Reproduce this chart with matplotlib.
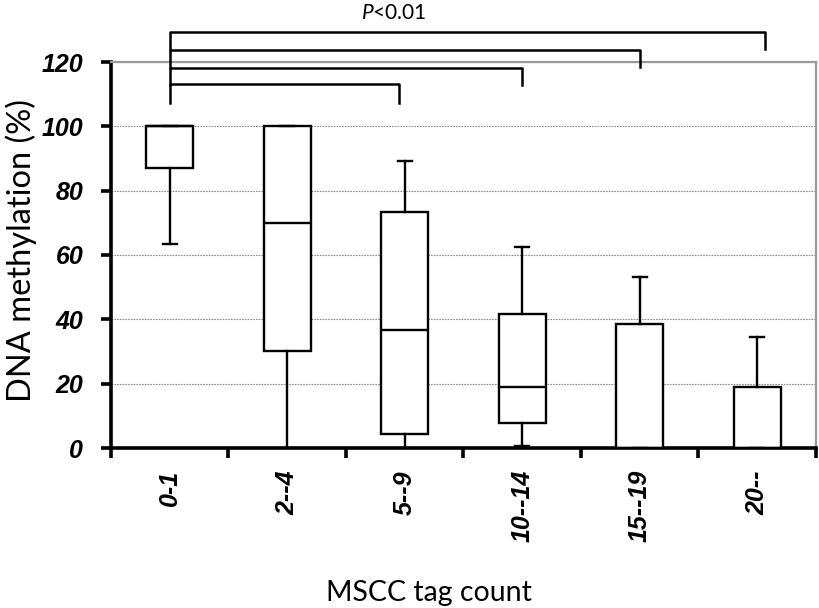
import matplotlib
matplotlib.use("Agg")
import matplotlib.pyplot as plt
from matplotlib.ticker import FixedLocator

# ---- data ----
categories = ["0-1", "2--4", "5--9", "10--14", "15--19", "20--"]
whisker_low = [63.4, 0.0, 0.0, 0.6, 0.0, 0.0]
q1 = [87.0, 30.2, 4.3, 7.7, 0.0, 0.0]
median = [100.0, 70.0, 36.7, 19.0, 0.0, 0.0]
q3 = [100.0, 100.0, 73.4, 41.7, 38.6, 19.0]
whisker_high = [100.0, 100.0, 89.2, 62.5, 53.2, 34.5]
y_ticks = [0, 20, 40, 60, 80, 100, 120]

# significance brackets (from group 0 to group end)
bracket_end = [5.07, 4.0, 3.0, 1.95]
bracket_top = [129.3, 123.7, 118.1, 113.1]
bracket_bottom = [124.0, 118.4, 112.8, 107.2]
p_rest = "<0.01"

plt.rcParams['mathtext.fontset'] = 'custom'
plt.rcParams['mathtext.it'] = 'Lato:italic'
plt.rcParams['mathtext.rm'] = 'Lato'

W, H = 820, 608
fig = plt.figure(figsize=(W / 100, H / 100), dpi=100)
ax = fig.add_axes([111 / W, 1 - 448 / H, (816 - 111) / W, (448 - 62) / H])

stats = []
for i in range(len(categories)):
    stats.append(dict(whislo=whisker_low[i], q1=q1[i], med=median[i],
                      q3=q3[i], whishi=whisker_high[i], fliers=[]))

lw = 1.7
ax.bxp(stats, positions=range(len(categories)), widths=0.4, capwidths=0.12,
       showfliers=False, patch_artist=True,
       boxprops=dict(facecolor="white", edgecolor="black", linewidth=lw),
       medianprops=dict(color="black", linewidth=lw),
       whiskerprops=dict(color="black", linewidth=lw),
       capprops=dict(color="black", linewidth=lw),
       manage_ticks=False, zorder=3)

ax.set_xlim(-0.5, len(categories) - 0.5)
ax.set_ylim(0, 120)

# grid
ax.set_axisbelow(True)
ax.yaxis.grid(True, color="#8a8a8a", linestyle=(0, (1.5, 1.0)), linewidth=0.8)

# spines
for s in ["left", "bottom"]:
    ax.spines[s].set_color("black")
    ax.spines[s].set_linewidth(2.6)
for s in ["top", "right"]:
    ax.spines[s].set_color("#9a9a9a")
    ax.spines[s].set_linewidth(1.6)

tick_font = dict(fontfamily="Liberation Sans", fontweight="bold",
                 fontstyle="italic", fontsize=18)

# ticks
ax.set_yticks(y_ticks)
ax.set_yticklabels([str(v) for v in y_ticks], **tick_font)
ax.tick_params(axis="y", direction="out", length=7, width=2.6, pad=13, right=False)

ax.set_xticks(range(len(categories)))
ax.set_xticklabels(categories, rotation=90, **tick_font)
ax.tick_params(axis="x", which="major", length=0, pad=16)
ax.xaxis.set_minor_locator(FixedLocator([i - 0.5 for i in range(len(categories) + 1)]))
ax.tick_params(axis="x", which="minor", direction="out", length=7, width=2.6)

# brackets
for e, t, b in zip(bracket_end, bracket_top, bracket_bottom):
    ax.plot([0, 0, e, e], [b, t, t, b], color="black", linewidth=1.8,
            clip_on=False, solid_joinstyle="round", zorder=4)

fig.text(394 / W, 1 - 13 / H, r"$\mathit{P}$" + p_rest, ha="center", va="center",
         fontfamily="Lato", fontsize=15)

fig.text(21 / W, 1 - 251 / H, "DNA methylation (%)", rotation=90, ha="center",
         va="center", fontfamily="Lato", fontsize=23.5)
fig.text(429 / W, 1 - 593 / H, "MSCC tag count", ha="center", va="center",
         fontfamily="Lato", fontsize=20.5)

fig.savefig("out.png", dpi=100)
